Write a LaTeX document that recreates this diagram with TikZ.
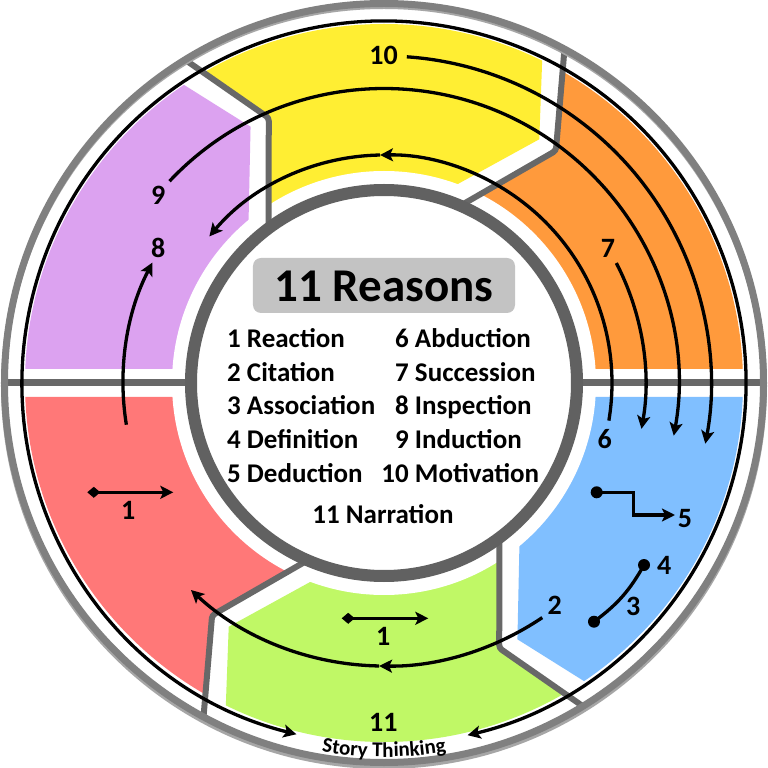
\documentclass[tikz,border=0pt]{standalone}
\usepackage{fontspec}
\setmainfont{Carlito}
\usetikzlibrary{arrows.meta,decorations.text}
\definecolor{cPurple}{HTML}{DCA2F0}
\definecolor{cYellow}{HTML}{FFEE33}
\definecolor{cOrange}{HTML}{FF9A3C}
\definecolor{cRed}{HTML}{FF7878}
\definecolor{cGreen}{HTML}{C0F866}
\definecolor{cBlue}{HTML}{80BFFF}
\definecolor{ringOuter}{HTML}{808080}
\definecolor{ringInner}{HTML}{616161}
\definecolor{chev}{HTML}{686868}
\definecolor{boxgray}{HTML}{C3C3C3}
\begin{document}
\begin{tikzpicture}[x=1pt,y=1pt,
  tipA/.tip={Stealth[length=13pt,width=13pt,inset=3pt]},
  arr/.style={line width=3.3pt,-tipA},
  lbl/.style={font=\bfseries\fontsize{28}{28}\selectfont, inner sep=0pt},
  item/.style={font=\bfseries\fontsize{27}{27}\selectfont, inner sep=0pt, anchor=base west},
  chevline/.style={draw=chev, line width=6pt, rounded corners=3pt},
  dot/.style={circle, fill=black, minimum size=12pt, inner sep=0pt}
]
\useasboundingbox (-384,-385) rectangle (384,383);
\fill[white] (-384,-385) rectangle (384,383);

% coloured segments
\begin{scope}
\clip (0,0) circle (359);
\fill[cPurple] (0,14) -- (133.6:197) -- (117.5:289) -- (125.2:379) -- (125:700) -- (-700,14) -- cycle;
\fill[cYellow] (121.7:379) -- (113.5:289) -- (126.7:195) -- (0,0) -- (73.6:197) -- (57.5:289) -- (65.2:379) -- (90:600) -- cycle;
\fill[cOrange] (61.7:379) -- (53.5:289) -- (66.7:195) -- (0,14) -- (700,14) -- (55:700) -- cycle;
\fill[cBlue] (0,-14) -- (700,-14) -- (-55:700) -- (-54.8:379) -- (-62.5:289) -- (-46.4:197) -- cycle;
\fill[cGreen] (-58.3:379) -- (-66.5:289) -- (-53.3:195) -- (0,0) -- (-106.4:197) -- (-122.5:289) -- (-114.8:379) -- (-90:600) -- cycle;
\fill[cRed] (-118.3:379) -- (-126.5:289) -- (-113.3:195) -- (0,-14) -- (-700,-14) -- (-125:700) -- cycle;
\end{scope}
\fill[white] (0,0) circle (212);

% gray separators and rings
\foreach \t in {120,60,-60,-120}{
  \draw[chevline] ({\t+1.7}:381) -- ({\t-6.5}:289) -- ({\t+6.7}:193);
}
\draw[chev, line width=7pt] (-381,0) -- (-193,0);
\draw[chev, line width=7pt] (193,0) -- (381,0);
\draw[ringOuter!70, line width=6pt] (0,-3) circle (380);
\draw[ringOuter, line width=7pt] (0,0) circle (379.5);
\draw[ringInner, line width=12pt, fill=white] (0,0) circle (193);

% circular arrows
\coordinate (a1s) at (189.2:261);
\draw[arr] (a1s) arc[start angle=189.2, end angle=152.5, radius=261];
\coordinate (a2s) at (136.75:294.5);
\draw[arr] (a2s) arc[start angle=136.75, end angle=-10.3, radius=294.5];
\coordinate (a3s) at (86:327);
\draw[arr] (a3s) arc[start angle=86, end angle=-10.7, radius=327];
\coordinate (a4s) at (27.3:261.5);
\draw[arr] (a4s) arc[start angle=27.3, end angle=-10.1, radius=261.5];
\coordinate (a5s) at (-9.5:228);
\draw[arr] (a5s) arc[start angle=-9.5, end angle=91, radius=228];
\coordinate (a6s) at (91:228);
\draw[arr] (a6s) arc[start angle=91, end angle=140, radius=228];
\coordinate (a7s) at (-56:283);
\draw[arr] (a7s) arc[start angle=-56, end angle=-91, radius=283];
\coordinate (a8s) at (-91:283);
\draw[arr] (a8s) arc[start angle=-91, end angle=-133, radius=283];
\coordinate (a9s) at (256:362);
\draw[line width=3.3pt,tipA-tipA] (a9s) arc[start angle=256, end angle=-76.65, radius=362];

% small arrows
\coordinate (r1a) at (-296.7,-109.3);
\coordinate (r1b) at (-210.7,-109.3);
\draw[line width=3.3pt,{Diamond[length=13pt,width=11pt]}-tipA] (r1a) -- (r1b);
\coordinate (g1a) at (-42.3,-235.3);
\coordinate (g1b) at (44.3,-235.3);
\draw[line width=3.3pt,{Diamond[length=13pt,width=11pt]}-tipA] (g1a) -- (g1b);
\node[dot] (d5) at (212.7,-109.3) {};
\coordinate (d5e) at (291,-132);
\draw[arr] (d5.center) -- (249.3,-109.3) -- (249.3,-132) -- (d5e);
\node[dot] (d3) at (210,-238.7) {};
\node[dot] (d4) at (260,-182) {};
\draw[line width=3.3pt] (d3.center) to[bend right=12] (d4.center);

% labels
\node[lbl] (l10) at (-0.5,328) {10};
\node[lbl] (l9) at (-225.7,188) {9};
\node[lbl] (l8) at (-225.7,134.7) {8};
\node[lbl] (l7) at (224,134.7) {7};
\node[lbl] (l6) at (220.7,-56) {6};
\node[lbl] (l5) at (301,-135.3) {5};
\node[lbl] (l4) at (280.3,-182) {4};
\node[lbl] (l3) at (249.3,-223.7) {3};
\node[lbl] (l2) at (170.7,-222.7) {2};
\node[lbl] (l1a) at (-255.7,-127) {1};
\node[lbl] (l1b) at (-0.7,-253) {1};
\node[lbl] (l11) at (-0.7,-339.5) {11};
\path[decorate, decoration={text along path, text align=center,
  text={|\bfseries\fontsize{21}{21}\selectfont|Story Thinking}}]
  (240:374) arc[start angle=240, end angle=300, radius=374];

% centre
\node[fill=boxgray, rounded corners=8pt, minimum width=262pt, minimum height=55pt, inner sep=0pt] (box) at (0,97.5) {};
\node[font=\bfseries\fontsize{47}{47}\selectfont, anchor=base, inner sep=0pt] (title) at (0,81) {11 Reasons};
\node[item] (i1) at (-157,35) {1 Reaction};
\node[item] (i2) at (-157,1) {2 Citation};
\node[item] (i3) at (-157,-32) {3 Association};
\node[item] (i4) at (-157,-65) {4 Definition};
\node[item] (i5) at (-157,-99) {5 Deduction};
\node[item] (i6) at (11,35) {6 Abduction};
\node[item] (i7) at (11,1) {7 Succession};
\node[item] (i8) at (11,-32) {8 Inspection};
\node[item] (i9) at (11,-65) {9 Induction};
\node[item] (i10) at (-2.7,-99) {10 Motivation};
\node[font=\bfseries\fontsize{27}{27}\selectfont, anchor=base, inner sep=0pt] (i11) at (-1,-140) {11 Narration};
\end{tikzpicture}
\end{document}
